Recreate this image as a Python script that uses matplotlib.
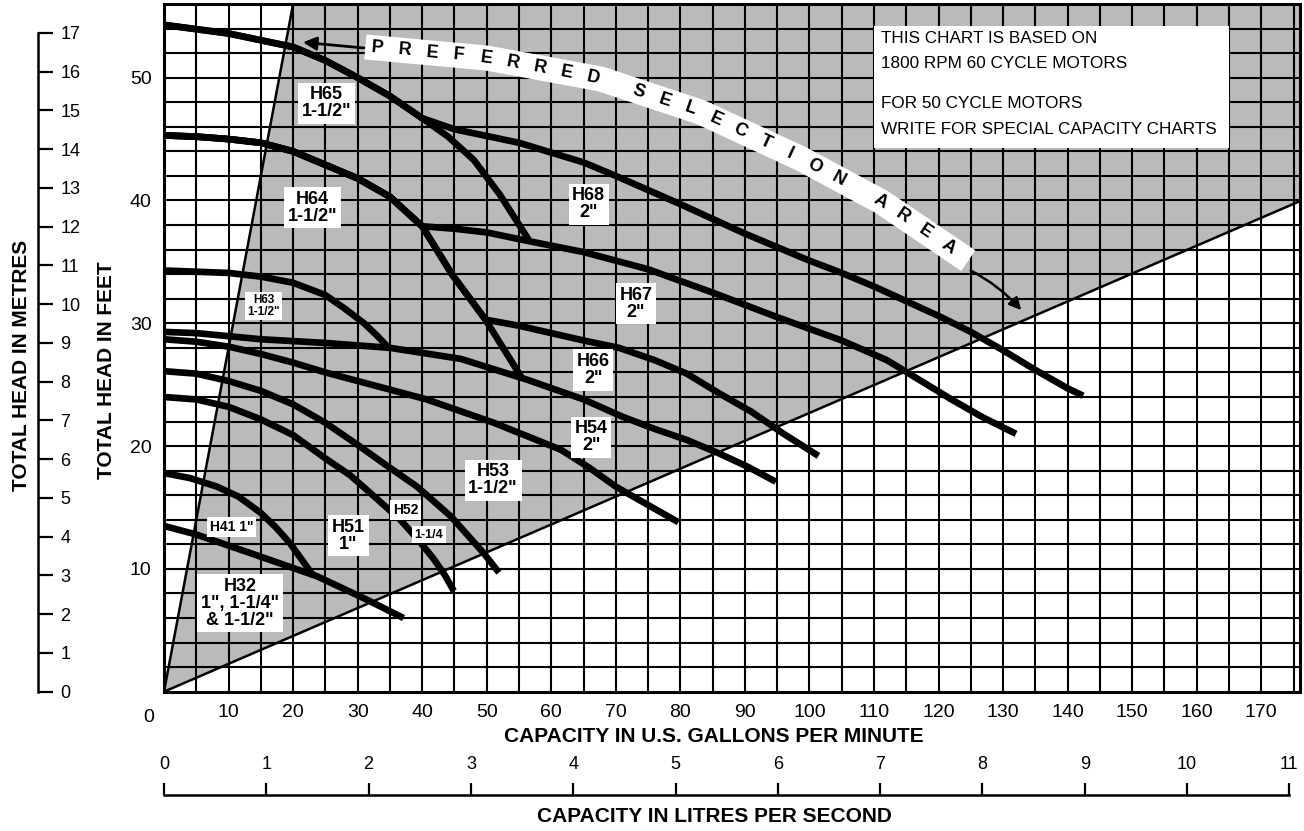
import numpy as np
import matplotlib.pyplot as plt
from matplotlib.patches import Polygon, Rectangle
from matplotlib.transforms import IdentityTransform

plt.rcParams['font.family'] = ['Liberation Sans', 'DejaVu Sans']

# pump curves: capacity in US gallons per minute vs total head in feet
h65_gpm = [0, 10, 20, 25, 30, 35, 40, 44, 48, 52, 56.5]
h65_ft = [54.3, 53.6, 52.5, 51.4, 50.0, 48.5, 46.7, 45.2, 43.3, 40.5, 36.8]

h68_gpm = [0, 10, 20, 25, 30, 35, 40, 45, 55, 65, 70, 80, 90, 100, 105, 110, 115, 120, 125, 130, 135, 140, 142.4]
h68_ft = [54.3, 53.6, 52.5, 51.4, 50.0, 48.5, 46.7, 45.8, 44.7, 43.1, 42.0, 39.7, 37.3, 35.1, 34.1, 33.0, 31.8, 30.6, 29.3, 27.8, 26.2, 24.7, 24.1]

h64_gpm = [0, 5, 10, 15, 20, 25, 30, 35, 40, 44.6, 49.8, 55.5]
h64_ft = [45.3, 45.2, 45.0, 44.7, 44.0, 42.9, 41.8, 40.3, 37.9, 34.0, 30.3, 25.5]

h67_gpm = [0, 5, 10, 15, 20, 25, 30, 35, 40, 45, 50, 56.4, 65, 75, 85, 95, 105, 112, 117, 122, 127, 132]
h67_ft = [45.3, 45.2, 45.0, 44.7, 44.0, 42.9, 41.8, 40.3, 37.9, 37.7, 37.4, 36.7, 35.8, 34.4, 32.5, 30.5, 28.6, 27.0, 25.4, 23.8, 22.3, 21.0]

h66_gpm = [0, 5, 10, 15, 20, 25, 30, 35, 40, 44.6, 49.8, 55, 60, 65, 70.5, 76, 81, 86, 91, 96, 101.4]
h66_ft = [45.3, 45.2, 45.0, 44.7, 44.0, 42.9, 41.8, 40.3, 37.9, 34.0, 30.3, 29.8, 29.2, 28.6, 28.0, 27.0, 25.9, 24.3, 22.8, 21.0, 19.2]

h63_gpm = [0, 10, 15, 20, 25, 28, 31, 33, 35]
h63_ft = [34.3, 34.1, 33.8, 33.3, 32.3, 31.2, 30.0, 29.0, 27.9]

h54_gpm = [0, 5, 15, 25, 35, 46, 56.3, 65, 71, 76, 81, 86, 90.5, 94.8]
h54_ft = [29.3, 29.2, 28.7, 28.4, 28.0, 27.1, 25.4, 23.8, 22.4, 21.4, 20.5, 19.4, 18.3, 17.1]

h53_gpm = [0, 5, 10, 15, 20, 25, 30, 35, 40.7, 51.1, 61.5, 66, 70, 75, 79.7]
h53_ft = [28.7, 28.5, 28.1, 27.5, 26.8, 26.0, 25.3, 24.6, 23.8, 21.9, 19.7, 18.2, 16.7, 15.2, 13.8]

h52_gpm = [0, 5, 10, 15, 20, 25, 30, 34, 39.2, 44.4, 49.5, 51.9]
h52_ft = [26.1, 25.9, 25.3, 24.5, 23.4, 21.9, 20.1, 18.6, 16.7, 14.3, 11.3, 9.7]

h51_gpm = [0, 5, 10, 14.9, 20, 25, 28.9, 33, 36.6, 39.5, 41.8, 43.5, 44.9]
h51_ft = [24.0, 23.8, 23.2, 22.2, 20.9, 19.0, 17.6, 15.7, 14.0, 12.3, 10.8, 9.5, 8.2]

h41_gpm = [0, 4, 8.2, 11.5, 14.9, 17.3, 19.5, 22.1, 23.2]
h41_ft = [17.8, 17.4, 16.7, 15.9, 14.6, 13.4, 12.1, 10.2, 9.4]

h32_gpm = [0, 5, 13.3, 23.7, 31.4, 37.1]
h32_ft = [13.5, 12.8, 11.3, 9.4, 7.5, 6.0]

curves = [(h65_gpm, h65_ft), (h68_gpm, h68_ft), (h64_gpm, h64_ft), (h67_gpm, h67_ft),
          (h66_gpm, h66_ft), (h63_gpm, h63_ft), (h54_gpm, h54_ft), (h53_gpm, h53_ft),
          (h52_gpm, h52_ft), (h51_gpm, h51_ft), (h41_gpm, h41_ft), (h32_gpm, h32_ft)]

# curve labels: text, gpm, ft, font size
labels = [('H65\n1-1/2"', 25.2, 47.9, 13),
          ('H64\n1-1/2"', 23.0, 39.4, 13),
          ('H68\n2"', 65.8, 39.7, 13),
          ('H67\n2"', 73.1, 31.6, 13),
          ('H66\n2"', 66.5, 26.2, 13),
          ('H54\n2"', 66.2, 20.7, 13),
          ('H53\n1-1/2"', 51.0, 17.2, 13),
          ('H63\n1-1/2"', 15.4, 31.4, 8.5),
          ('H52', 37.4, 14.8, 10),
          ('1-1/4', 41.0, 12.8, 9),
          ('H51\n1"', 28.6, 12.7, 13),
          ('H41 1"', 10.5, 13.4, 10),
          ('H32\n1", 1-1/4"\n& 1-1/2"', 11.8, 7.2, 13)]

note_lines = ['THIS CHART IS BASED ON', '1800 RPM 60 CYCLE MOTORS',
              'FOR 50 CYCLE MOTORS', 'WRITE FOR SPECIAL CAPACITY CHARTS']
note_ft = [52.8, 50.8, 47.5, 45.45]

gpm_ticks = list(range(10, 171, 10))
ft_ticks = [10, 20, 30, 40, 50]
m_ticks = list(range(0, 18))
lps_ticks = list(range(0, 12))
GPM_PER_LPS = 15.85

GPM_MAX, FT_MAX = 176, 56
steep_slope = 2.8     # left edge of preferred area, ft per gpm
low_slope = 0.227     # lower edge of preferred area

fig = plt.figure(figsize=(13.04, 8.31), dpi=100)
W, H = 1304, 831
x0, x1, y0, y1 = 164, 1300, 691.7, 4
ax = fig.add_axes([x0 / W, (H - y0) / H, (x1 - x0) / W, (y0 - y1) / H])
ax.set_xlim(0, GPM_MAX)
ax.set_ylim(0, FT_MAX)

# preferred selection area
area = Polygon([(0, 0), (FT_MAX / steep_slope, FT_MAX), (GPM_MAX, FT_MAX), (GPM_MAX, GPM_MAX * low_slope)],
               closed=True, facecolor='#bababa', edgecolor='none', zorder=0.5)
ax.add_patch(area)
ax.plot([0, FT_MAX / steep_slope], [0, FT_MAX], color='black', lw=1.8, zorder=2)
ax.plot([0, GPM_MAX], [0, GPM_MAX * low_slope], color='black', lw=1.8, zorder=2)

ax.set_xticks([0] + gpm_ticks)
ax.set_xticklabels([''] + [str(t) for t in gpm_ticks])
ax.set_xticks(np.arange(5, GPM_MAX, 10), minor=True)
ax.set_yticks(ft_ticks)
ax.set_yticks(np.arange(2, FT_MAX, 2), minor=True)
ax.grid(which='both', color='black', lw=1.5, zorder=1)
ax.set_axisbelow(False)
ax.tick_params(which='both', length=0, labelsize=14, pad=9)
for s in ax.spines.values():
    s.set_linewidth(2.2)
    s.set_zorder(3)
ax.text(-2.4, -1.4, '0', ha='center', va='top', fontsize=14)

for g, f in curves:
    ax.plot(g, f, color='black', lw=4.8, solid_capstyle='butt', solid_joinstyle='round', zorder=4)

for txt, g, f, size in labels:
    ax.text(g, f, txt, ha='center', va='center', fontsize=size, fontweight='bold',
            linespacing=1.0, zorder=6,
            bbox=dict(facecolor='white', edgecolor='none', boxstyle='square,pad=0.2'))

# note box
ax.add_patch(Rectangle((110, 44.3), 55, 9.9, facecolor='white', edgecolor='none', zorder=6))
for line, f in zip(note_lines, note_ft):
    ax.text(111.1, f, line, ha='left', va='baseline', fontsize=12.3, zorder=7)

# "PREFERRED SELECTION AREA" band
band_gpm = [31.2, 50, 67.6, 83.1, 98.7, 111.1, 124.6]
band_ft = [52.5, 51.6, 49.9, 47.2, 43.4, 39.9, 35.1]
ax.plot(band_gpm, band_ft, color='white', lw=18, solid_capstyle='butt', solid_joinstyle='round', zorder=5)

pts = ax.transData.transform(np.column_stack([band_gpm, band_ft]))
seg = np.diff(pts, axis=0)
seglen = np.hypot(seg[:, 0], seg[:, 1])
cum = np.concatenate([[0], np.cumsum(seglen)])


def along(s):
    s = np.clip(s, 0, cum[-1] - 1e-6)
    i = min(np.searchsorted(cum, s, side='right') - 1, len(seglen) - 1)
    t = (s - cum[i]) / seglen[i]
    return pts[i] + t * seg[i]


s = 12
for w, word in enumerate(['PREFERRED', 'SELECTION', 'AREA']):
    if w > 0:
        s += 47 - 27
    for ch in word:
        p = along(s)
        d = along(s + 12) - along(s - 12)
        ang = np.degrees(np.arctan2(d[1], d[0]))
        ax.text(p[0], p[1], ch, transform=IdentityTransform(), rotation=ang,
                rotation_mode='anchor', ha='center', va='center', fontsize=13,
                fontweight='bold', zorder=7)
        s += 27.3

ax.annotate('', xy=(21.1, 52.9), xytext=(31.4, 52.4),
            arrowprops=dict(arrowstyle='-|>', color='black', lw=2, mutation_scale=20), zorder=7)
ax.annotate('', xy=(133.1, 30.9), xytext=(124.6, 34.4),
            arrowprops=dict(arrowstyle='-|>', color='black', lw=1.8, mutation_scale=18,
                            connectionstyle='arc3,rad=-0.1'), zorder=7)

# metres scale on the far left
axm = fig.add_axes([30 / W, (H - y0) / H, 8 / W, (y0 - y1) / H])
axm.set_ylim(0, (y0 - y1) / 38.76)
axm.set_xticks([])
axm.yaxis.tick_right()
axm.set_yticks(m_ticks)
axm.tick_params(axis='y', direction='out', length=11, width=1.6, labelsize=13, pad=5)
for k in ['left', 'top', 'bottom']:
    axm.spines[k].set_visible(False)
axm.spines['right'].set_linewidth(1.8)
axm.spines['right'].set_bounds(0, 17)
axm.patch.set_visible(False)

# litres per second scale at the bottom
axl = fig.add_axes([x0 / W, 30 / H, (x1 - x0) / W, 6 / H])
axl.set_xlim(0, GPM_MAX / GPM_PER_LPS)
axl.set_yticks([])
axl.xaxis.tick_top()
axl.set_xticks(lps_ticks)
axl.tick_params(axis='x', direction='out', length=9, width=1.6, labelsize=13, pad=7)
for k in ['left', 'right', 'bottom']:
    axl.spines[k].set_visible(False)
axl.spines['top'].set_linewidth(1.8)
axl.spines['top'].set_bounds(0, 11)
axl.patch.set_visible(False)

fig.text(714 / W, 1 - 737 / H, 'CAPACITY IN U.S. GALLONS PER MINUTE', ha='center', va='center',
         fontsize=15, fontweight='bold')
fig.text(714 / W, 1 - 817 / H, 'CAPACITY IN LITRES PER SECOND', ha='center', va='center',
         fontsize=15, fontweight='bold')
fig.text(106 / W, 1 - 370 / H, 'TOTAL HEAD IN FEET', rotation=90, ha='center', va='center',
         fontsize=15, fontweight='bold')
fig.text(22 / W, 1 - 365 / H, 'TOTAL HEAD IN METRES', rotation=90, ha='center', va='center',
         fontsize=15, fontweight='bold')

fig.savefig('out.png', dpi=100)
